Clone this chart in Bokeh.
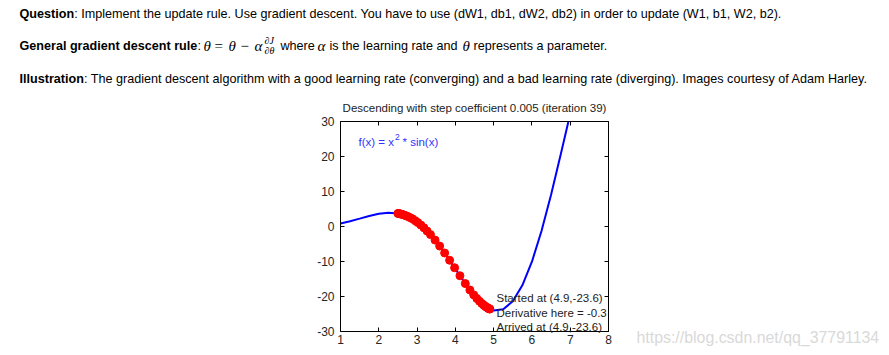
from bokeh.plotting import figure
from bokeh.models import Range1d, FixedTicker, LinearAxis, Label
from bokeh.embed import file_html
from bokeh.resources import INLINE

# ---- data ----
curve_x = [1.0, 1.25, 1.5, 1.75, 2.0, 2.25, 2.5, 2.75, 3.0, 3.25, 3.5, 3.75, 4.0,
           4.25, 4.5, 4.75, 5.0, 5.25, 5.5, 5.75, 6.0, 6.25, 6.5, 6.75, 6.95]
curve_y = [0.84, 1.48, 2.24, 3.01, 3.64, 3.94, 3.74, 2.89, 1.27, -1.14, -4.30, -8.04, -12.11,
           -16.17, -19.79, -22.55, -23.97, -23.67, -21.34, -16.81, -10.06, -1.30, 9.09, 20.50, 29.88]

dots_x = [2.50, 2.52, 2.55, 2.58, 2.62, 2.66, 2.71, 2.76, 2.82, 2.88, 2.95, 3.02, 3.10,
          3.18, 3.26, 3.35, 3.47, 3.59, 3.72, 3.85, 3.98, 4.12, 4.26, 4.38, 4.48, 4.56,
          4.63, 4.69, 4.74, 4.78, 4.81, 4.84, 4.86, 4.88, 4.89, 4.90]
dots_y = [3.74, 3.70, 3.63, 3.54, 3.42, 3.28, 3.08, 2.85, 2.53, 2.18, 1.66, 1.11, 0.40,
          -0.39, -1.26, -2.32, -3.88, -5.59, -7.57, -9.64, -11.78, -14.08, -16.31, -18.14,
          -19.54, -20.55, -21.36, -21.99, -22.46, -22.80, -23.03, -23.24, -23.36, -23.48,
          -23.54, -23.59]

x_ticks = [1, 2, 3, 4, 5, 6, 7, 8]
y_ticks = [-30, -20, -10, 0, 10, 20, 30]
x_min, x_max = 1, 8
y_min, y_max = -30, 30

title_text = "Descending with step coefficient 0.005 (iteration 39)"
notes = ["Started at (4.9,-23.6)", "Derivative here = -0.3", "Arrived at (4.9,-23.6)"]

# ---- layout (page pixels) ----
W, H = 889, 355
L, R, T, B = 340, 608, 121, 331
sx = (R - L) / (x_max - x_min)
sy = (B - T) / (y_max - y_min)

p = figure(width=W, height=H,
           x_range=Range1d(x_min - L / sx, x_max + (W - R) / sx),
           y_range=Range1d(y_min - (H - B) / sy, y_max + T / sy),
           output_backend="svg", toolbar_location=None,
           x_axis_location=None, y_axis_location=None, min_border=0)
p.background_fill_color = "white"
p.border_fill_color = "white"
p.outline_line_color = None
p.xgrid.visible = False
p.ygrid.visible = False

def make_axis(side, ticks, bounds, loc, labels):
    ax = LinearAxis(fixed_location=loc, bounds=bounds)
    ax.ticker = FixedTicker(ticks=ticks)
    ax.axis_line_color = "black"
    ax.major_tick_line_color = "black"
    ax.major_tick_in = 4
    ax.major_tick_out = 0
    ax.minor_tick_line_color = None
    ax.major_label_text_font = "Liberation Sans"
    ax.major_label_text_font_size = "12px"
    ax.major_label_text_color = "#262626" if labels else None
    ax.major_label_overrides = {t: str(t) for t in ticks}
    p.add_layout(ax, side)
    return ax

bx = make_axis("below", x_ticks, (x_min, x_max), y_min, True)
bx.major_label_standoff = 3
ly = make_axis("left", y_ticks, (y_min, y_max), x_min, True)
ly.major_label_standoff = 6
make_axis("above", x_ticks, (x_min, x_max), y_max, False)
make_axis("right", y_ticks, (y_min, y_max), x_max, False)

p.line(curve_x, curve_y, line_color="#0000ff", line_width=2)
p.scatter(dots_x, dots_y, size=8, fill_color="#ff0000", line_color="#ff0000")

def lab(text, px, py, size, color="black", style="normal", font="Liberation Sans", align="left"):
    p.add_layout(Label(x=px, y=H - py, x_units="screen", y_units="screen", text=text,
                       text_font=font, text_font_size=f"{size}px", text_color=color,
                       text_font_style=style, text_align=align, text_baseline="middle"))

FS = 12.6
MS = 15
# page text
lab("Question", 19, 13, FS, style="bold")
lab(": Implement the update rule. Use gradient descent. You have to use (dW1, db1, dW2, db2) in order to update (W1, b1, W2, b2).", 73.8, 13, FS)

lab("General gradient descent rule", 19, 45, FS, style="bold")
lab(":", 197, 45, FS)
lab("\u03b8", 203, 45, MS, style="italic", font="Liberation Serif")
lab("=", 214, 45, MS, font="Liberation Serif")
lab("\u03b8", 228, 45, MS, style="italic", font="Liberation Serif")
lab("\u2212", 240, 45, MS, font="Liberation Serif")
lab("\u03b1", 254, 45, MS, style="italic", font="Liberation Serif")
lab("\u2202J", 264, 39.5, 10, style="italic", font="Liberation Serif")
lab("\u2202\u03b8", 264, 49.5, 10, style="italic", font="Liberation Serif")
lab("where", 280, 45, FS)
lab("\u03b1", 317, 45, MS, style="italic", font="Liberation Serif")
lab("is the learning rate and", 329, 45, FS)
lab("\u03b8", 462, 45, MS, style="italic", font="Liberation Serif")
lab("represents a parameter.", 473, 45, FS)

lab("Illustration", 19, 78, FS, style="bold")
lab(": The gradient descent algorithm with a good learning rate (converging) and a bad learning rate (diverging). Images courtesy of Adam Harley.", 83.5, 78, FS)

# chart texts
lab(title_text, (L + R) / 2, 107, 11.5, color="#222222", align="center")
lab("f(x) = x", 358, 141, 11.5, color="#3333ff")
lab("2", 394.5, 136.5, 8.5, color="#3333ff")
lab("* sin(x)", 402, 141, 11.5, color="#3333ff")
lab(notes[0], 496, 297, 11.5, color="#222222")
lab(notes[1], 496, 312, 11.5, color="#222222")
lab(notes[2], 496, 326, 11.5, color="#222222")

lab("https://blog.csdn.net/qq_37791134", 636, 337, 15.9, color="#d9d9d9")

open("out.html", "w").write(file_html(p, INLINE))
